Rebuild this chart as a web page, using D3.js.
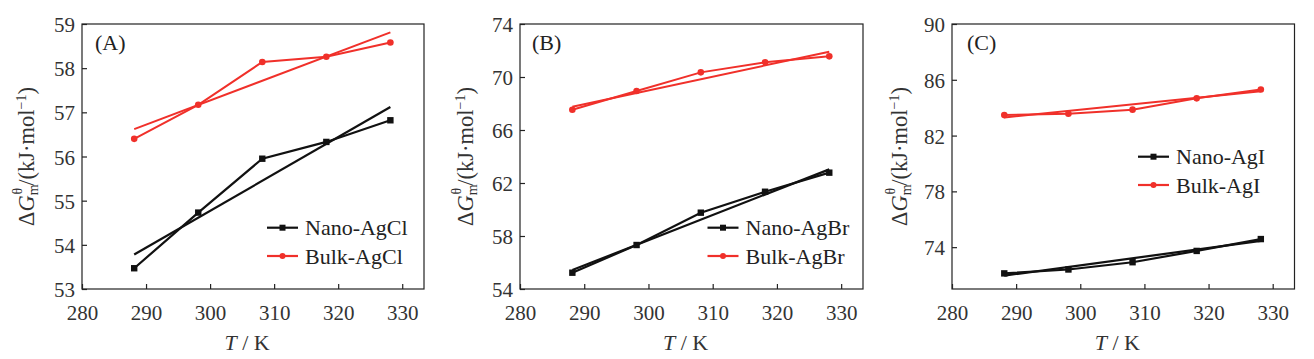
<!DOCTYPE html>
<html><head><meta charset="utf-8">
<script src="https://cdn.jsdelivr.net/npm/d3@7"></script>
<style>
body{margin:0;background:#fff;}
text{font-family:"Liberation Serif","Times New Roman",serif;}
</style></head>
<body><svg id="c" width="1314" height="359"></svg>
<script>
const temps = [288.15, 298.15, 308.15, 318.15, 328.15];
const xTicks = [280, 290, 300, 310, 320, 330];
const panelLabels = ["(A)", "(B)", "(C)"];
const nanoNames = ["Nano-AgCl", "Nano-AgBr", "Nano-AgI"];
const bulkNames = ["Bulk-AgCl", "Bulk-AgBr", "Bulk-AgI"];
const nanoAgCl = [53.47, 54.73, 55.95, 56.33, 56.82];
const bulkAgCl = [56.40, 57.17, 58.14, 58.26, 58.58];
const nanoAgClFit = [53.78, 57.12];
const bulkAgClFit = [56.62, 58.81];
const nanoAgBr = [55.23, 57.32, 59.76, 61.34, 62.78];
const bulkAgBr = [67.53, 68.94, 70.35, 71.11, 71.56];
const nanoAgBrFit = [55.43, 63.03];
const bulkAgBrFit = [67.76, 71.91];
const nanoAgI = [72.12, 72.40, 72.92, 73.73, 74.58];
const bulkAgI = [83.47, 83.57, 83.86, 84.67, 85.30];
const nanoAgIFit = [71.96, 74.45];
const bulkAgIFit = [83.30, 85.17];
const yDomains = [[53, 59], [54, 74], [71, 90]];
const yTicks = [[53,54,55,56,57,58,59],[54,58,62,66,70,74],[74,78,82,86,90]];

const panels = [
  {left:82, right:424, legX:267, legY:227.7, labX:95, ylabX:26, nano:nanoAgCl, bulk:bulkAgCl, nanoFit:nanoAgClFit, bulkFit:bulkAgClFit},
  {left:520, right:863, legX:707.5, legY:227.7, labX:532, ylabX:465, nano:nanoAgBr, bulk:bulkAgBr, nanoFit:nanoAgBrFit, bulkFit:bulkAgBrFit},
  {left:952, right:1294.5, legX:1138, legY:156.7, labX:967, ylabX:899, nano:nanoAgI, bulk:bulkAgI, nanoFit:nanoAgIFit, bulkFit:bulkAgIFit}
];
const plotTop = 24, plotBottom = 289;
const RED = "#f0302a", BLACK = "#111";
const svg = d3.select("#c");

panels.forEach((p, i) => {
  const x = d3.scaleLinear().domain([280, 333.4]).range([p.left, p.right]);
  const y = d3.scaleLinear().domain(yDomains[i]).range([plotBottom, plotTop]);
  const g = svg.append("g");

  g.append("rect").attr("x", p.left).attr("y", plotTop).attr("width", p.right - p.left).attr("height", plotBottom - plotTop)
    .attr("fill", "none").attr("stroke", "#222").attr("stroke-width", 1.2);

  const xa = g.append("g").attr("transform", `translate(0,${plotBottom})`)
    .call(d3.axisBottom(x).tickValues(xTicks).tickSize(-5).tickPadding(12).tickFormat(d3.format("d")));
  const ya = g.append("g").attr("transform", `translate(${p.left},0)`)
    .call(d3.axisLeft(y).tickValues(yTicks[i]).tickSize(-5).tickPadding(7).tickFormat(d3.format("d")));
  [xa, ya].forEach(a => {
    a.select(".domain").remove();
    a.selectAll("line").attr("stroke", "#222").attr("stroke-width", 1.2);
    a.selectAll("text").attr("font-size", 21).attr("fill", "#333")
      .style("font-family", '"Liberation Serif","Times New Roman",serif');
  });
  xa.selectAll("text").attr("dy", "0.9em");
  ya.selectAll("text").attr("dy", "0.36em");

  const line = d3.line().x(d => x(d[0])).y(d => y(d[1]));
  const fitPts = f => [[temps[0], f[0]], [temps[temps.length - 1], f[1]]];
  const dataPts = v => temps.map((t, k) => [t, v[k]]);

  g.append("path").attr("d", line(fitPts(p.bulkFit))).attr("fill", "none").attr("stroke", RED).attr("stroke-width", 2);
  g.append("path").attr("d", line(fitPts(p.nanoFit))).attr("fill", "none").attr("stroke", BLACK).attr("stroke-width", 2.2);
  g.append("path").attr("d", line(dataPts(p.bulk))).attr("fill", "none").attr("stroke", RED).attr("stroke-width", 2);
  g.append("path").attr("d", line(dataPts(p.nano))).attr("fill", "none").attr("stroke", BLACK).attr("stroke-width", 2.2);
  g.selectAll(".bm").data(dataPts(p.bulk)).join("circle")
    .attr("cx", d => x(d[0])).attr("cy", d => y(d[1])).attr("r", 3.3).attr("fill", RED);
  g.selectAll(".nm").data(dataPts(p.nano)).join("rect")
    .attr("x", d => x(d[0]) - 3.2).attr("y", d => y(d[1]) - 3.2).attr("width", 6.4).attr("height", 6.4).attr("fill", BLACK);

  const lg = [[nanoNames[i], BLACK, "sq"], [bulkNames[i], RED, "ci"]];
  lg.forEach((L, k) => {
    const ly = p.legY + k * 28.3;
    g.append("line").attr("x1", p.legX).attr("x2", p.legX + 31).attr("y1", ly).attr("y2", ly)
      .attr("stroke", L[1]).attr("stroke-width", 2.2);
    if (L[2] === "sq") g.append("rect").attr("x", p.legX + 15.5 - 3).attr("y", ly - 3).attr("width", 6).attr("height", 6).attr("fill", L[1]);
    else g.append("circle").attr("cx", p.legX + 15.5).attr("cy", ly).attr("r", 3).attr("fill", L[1]);
    g.append("text").attr("x", p.legX + 38).attr("y", ly).attr("dy", "0.35em")
      .attr("font-size", 22).attr("fill", "#222").text(L[0]);
  });

  g.append("text").attr("x", p.labX).attr("y", 50).attr("font-size", 22).attr("fill", "#222").text(panelLabels[i]);

  const xt = g.append("text").attr("x", (p.left + p.right) / 2 - 6).attr("y", 350)
    .attr("text-anchor", "middle").attr("font-size", 22).attr("fill", "#333");
  xt.append("tspan").attr("font-style", "italic").text("T");
  xt.append("tspan").text(" / K");

  const yt = g.append("text").attr("transform", `translate(${p.ylabX + 8},${(plotTop + plotBottom) / 2}) rotate(-90)`)
    .attr("text-anchor", "middle").attr("font-size", 22.5).attr("fill", "#333");
  yt.append("tspan").text("Δ");
  yt.append("tspan").attr("font-style", "italic").text("G");
  yt.append("tspan").attr("font-size", 14).attr("dy", 4).text("m");
  yt.append("tspan").attr("font-size", 14).attr("dx", -10).attr("dy", -16).text("θ");
  yt.append("tspan").attr("dy", 12).attr("dx", 2).text("/(kJ·mol");
  yt.append("tspan").attr("font-size", 14).attr("dy", -8).text("−1");
  yt.append("tspan").attr("dy", 8).text(")");
});
</script></body></html>
